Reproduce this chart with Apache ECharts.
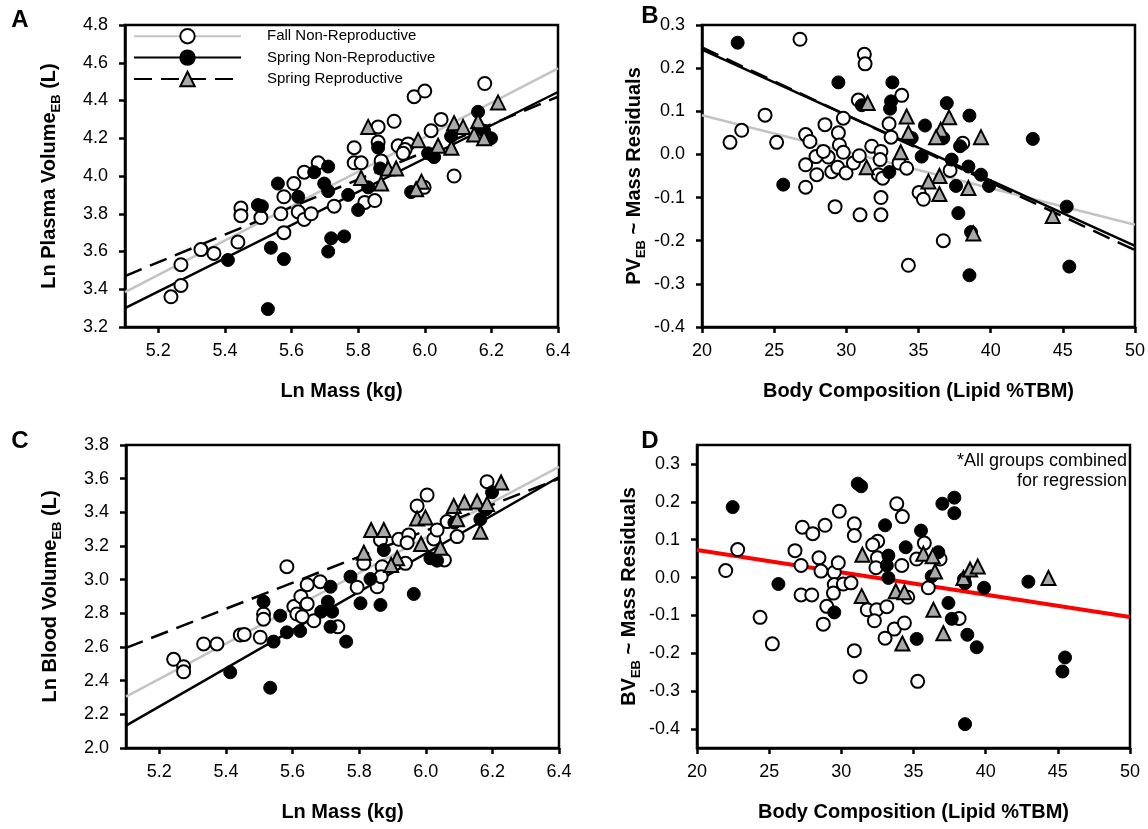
<!DOCTYPE html>
<html>
<head>
<meta charset="utf-8">
<title>Plasma and blood volume</title>
<script src="https://cdn.jsdelivr.net/npm/echarts@6/dist/echarts.min.js"></script>
<style>
html, body { margin: 0; padding: 0; background: #fff; }
#chart { width: 1148px; height: 829px; }
</style>
</head>
<body>
<div id="chart"></div>
<script>
// ---- data ----
// A: ln mass vs ln plasma volume
const fallA = [[5.238,3.36],[5.268,3.42],[5.268,3.53],[5.328,3.61],[5.367,3.59],[5.439,3.65],[5.448,3.83],[5.448,3.79],[5.508,3.78],[5.568,3.80],[5.577,3.70],[5.577,3.89],[5.607,3.96],[5.62,3.81],[5.638,4.02],[5.638,3.77],[5.659,3.80],[5.68,4.07],[5.728,3.84],
  [6.18,4.49],[5.968,4.42],[6.0,4.45],[5.908,4.29],[5.86,4.26],[6.049,4.30],[6.019,4.24],[5.788,4.15],[5.86,4.18],[5.92,4.16],[5.95,4.17],[5.941,4.14],[5.788,4.07],[5.809,4.07],[5.869,4.08],[5.82,3.86],[5.85,3.87],[6.088,4.0],[5.998,3.94],[5.935,4.12]];
const springA = [[5.529,3.295],[5.409,3.555],[5.538,3.62],[5.577,3.56],[5.499,3.846],[5.511,3.84],[5.559,3.96],[5.62,3.89],[5.668,4.02],[5.71,4.05],[5.698,3.96],[5.71,3.92],[5.719,3.67],[5.71,3.60],
  [6.16,4.34],[5.86,4.15],[5.866,4.04],[6.01,4.12],[6.028,4.10],[6.079,4.21],[6.199,4.20],[6.178,4.24],[5.77,3.90],[5.80,3.82],[5.959,3.915],[5.83,3.94],[5.758,3.68]];
const reproA = [[6.22,4.39],[5.83,4.26],[5.98,4.19],[6.04,4.16],[6.08,4.15],[6.088,4.28],[6.115,4.26],[6.16,4.29],[6.148,4.22],[6.178,4.20],[5.89,4.04],[5.914,4.04],[5.809,3.99],[5.869,3.96],[5.99,3.97],[5.974,3.93]];
const fitFallA = [[5.1,3.385],[6.4,4.57]];
const fitSpringA = [[5.1,3.30],[6.4,4.445]];
const fitReproA = [[5.1,3.47],[6.4,4.42]];

// B: lipid %TBM vs PV residuals
const fallB = [[26.79,0.267],[31.25,0.232],[31.30,0.21],[21.94,0.028],[22.75,0.056],[24.37,0.091],[25.17,0.028],[27.18,0.046],[27.48,0.030],[28.52,0.069],[29.45,0.05],[29.79,0.084],[29.52,0.022],[29.79,0.005],[27.9,-0.005],[28.75,-0.006],[28.41,0.007],[27.18,-0.024],[27.95,-0.047],[28.99,-0.04],[29.40,-0.03],[29.98,-0.043],[30.49,-0.02],[30.90,-0.003],[31.76,0.019],[32.4,0.007],[32.34,-0.012],[32.22,-0.047],[32.52,-0.055],[27.18,-0.076],[29.22,-0.121],[30.95,-0.14],[32.40,-0.10],[32.40,-0.14],[34.30,-0.257],[32.96,0.071],[33.10,0.04],[33.84,0.137],[33.65,-0.02],[34.18,-0.032],[30.83,0.126],[35.04,-0.088],
  [38.07,0.026],[37.19,-0.037],[35.34,-0.104],[36.72,-0.20]];
const springB = [[22.47,0.259],[29.45,0.167],[33.19,0.167],[33.10,0.123],[33.03,0.106],[31.07,0.114],[25.63,-0.07],[32.98,-0.041],[34.53,0.038],
  [36.96,0.119],[38.53,0.09],[35.45,0.067],[36.72,0.038],[37.88,0.019],[35.22,-0.005],[37.30,-0.012],[38.46,-0.028],[39.33,-0.047],[39.89,-0.073],[37.60,-0.073],[42.92,0.036],[45.27,-0.121],[45.45,-0.26],[38.53,-0.28],[37.76,-0.136],[38.64,-0.18]];
const reproB = [[31.48,0.119],[34.18,0.088],[34.30,0.05],[33.77,0.005],[31.41,-0.03],[37.12,0.086],[36.54,0.057],[36.22,0.04],[39.33,0.04],[36.45,-0.05],[35.69,-0.063],[36.45,-0.092],[38.46,-0.078],[44.30,-0.143],[38.80,-0.183]];
const fitFallB = [[20,0.091],[50,-0.163]];
const fitSpringB = [[20,0.243],[50,-0.212]];
const fitReproB = [[20,0.248],[50,-0.222]];

// C: ln mass vs ln blood volume
const fallC = [[5.243,2.527],[5.273,2.483],[5.273,2.453],[5.333,2.618],[5.373,2.618],[5.443,2.671],[5.455,2.675],[5.503,2.658],[5.513,2.796],[5.513,2.765],[5.583,3.077],[5.604,2.84],[5.613,2.796],[5.625,2.90],[5.644,2.97],[5.644,2.856],[5.683,2.988],[5.664,2.756],[5.629,2.78],
  [6.004,3.503],[5.974,3.438],[6.184,3.582],[5.919,3.24],[5.949,3.266],[5.944,3.22],[5.864,3.236],[6.024,3.242],[6.034,3.295],[6.064,3.345],[6.094,3.256],[5.814,3.097],[5.869,3.077],[5.939,3.097],[5.794,2.955],[5.854,2.958],[5.866,3.018],[6.056,3.117],[5.736,2.72]];
const springC = [[5.413,2.45],[5.533,2.358],[5.513,2.869],[5.563,2.786],[5.543,2.632],[5.583,2.687],[5.623,2.695],[5.714,2.958],[5.706,2.869],[5.719,2.81],[5.714,2.72],[5.686,2.81],
  [6.199,3.519],[5.874,3.176],[6.014,3.127],[6.034,3.113],[6.086,3.339],[6.164,3.359],[6.181,3.418],[5.774,3.018],[5.834,3.004],[5.804,2.86],[5.864,2.85],[5.964,2.915],[5.761,2.632]];
const reproC = [[6.226,3.577],[5.836,3.295],[5.874,3.295],[5.974,3.364],[5.999,3.37],[6.084,3.438],[6.116,3.458],[6.154,3.464],[6.184,3.45],[6.094,3.359],[6.164,3.285],[5.986,3.212],[6.044,3.19],[5.814,3.16],[5.914,3.127],[5.896,3.087]];
const fitFallC = [[5.1,2.305],[6.4,3.67]];
const fitSpringC = [[5.1,2.133],[6.4,3.61]];
const fitReproC = [[5.1,2.595],[6.4,3.60]];

// D: lipid %TBM vs BV residuals (one regression for all groups)
const fallD = [[22.82,0.074],[21.99,0.0185],[24.37,-0.105],[25.22,-0.175],[26.79,0.071],[27.21,0.032],[27.30,0.133],[28.02,0.116],[28.87,0.138],[29.86,0.175],[30.90,0.142],[30.90,0.111],[28.45,0.052],[28.59,0.017],[29.51,0.014],[29.79,0.039],[29.51,-0.0185],[29.45,-0.041],[30.14,-0.017],[30.67,-0.014],[27.21,-0.046],[27.95,-0.046],[28.99,-0.076],[28.75,-0.123],[30.90,-0.193],[31.30,-0.262],[32.52,0.096],[32.17,0.0865],[32.50,0.052],[32.40,0.026],[31.80,-0.085],[32.45,-0.085],[33.15,-0.077],[32.29,-0.114],[33.67,-0.136],[33.03,-0.16],[34.37,-0.12],[33.84,0.195],[34.23,0.161],[34.19,0.032],[34.60,-0.052],[35.22,0.049],[35.29,-0.274],
  [35.75,0.091],[36.84,0.049],[36.03,-0.027],[38.16,-0.108]];
const springD = [[22.47,0.186],[25.64,-0.017],[29.51,-0.092],[31.14,0.248],[31.37,0.241],[33.03,0.138],[33.26,0.058],[33.15,0.032],[33.26,-0.001],[34.46,0.080],
  [37.0,0.195],[37.83,0.211],[37.83,0.17],[35.52,0.124],[36.72,0.067],[36.26,0.0035],[38.50,-0.004],[38.57,-0.015],[39.89,-0.027],[42.96,-0.011],[37.42,-0.067],[37.65,-0.109],[35.22,-0.162],[38.73,-0.151],[39.38,-0.184],[45.50,-0.211],[45.32,-0.248],[38.57,-0.387]];
const reproD = [[31.46,0.06],[31.41,-0.049],[33.77,-0.036],[34.37,-0.039],[34.23,-0.174],[35.68,0.063],[36.33,0.056],[36.49,0.016],[38.46,-0.001],[38.92,0.021],[39.45,0.029],[44.35,-0.001],[36.38,-0.085],[37.07,-0.147]];
const fitAllD = [[20,0.073],[50,-0.104]];

// tick labels
const lnMassTicks = [5.2, 5.4, 5.6, 5.8, 6.0, 6.2, 6.4];
const residTicksD = [-0.4, -0.3, -0.2, -0.1, 0.0, 0.1, 0.2, 0.3];

const groupNames = ['Fall Non-Reproductive', 'Spring Non-Reproductive', 'Spring Reproductive'];

const FONT = 'Liberation Sans, Arial, sans-serif';
const chart = echarts.init(document.getElementById('chart'));

const openStyle = { color: '#fff', borderColor: '#000', borderWidth: 2, opacity: 1 };
const fillStyle = { color: '#000', borderColor: '#000', borderWidth: 1, opacity: 1 };
const triStyle = { color: '#a9a9a9', borderColor: '#000', borderWidth: 2, opacity: 1 };

function axisCommon() {
	return {
		axisLine: { show: true, onZero: false, lineStyle: { color: '#000', width: 2.5 } },
		axisTick: { show: true, inside: false, length: 6, lineStyle: { color: '#000', width: 2.5 } },
		splitLine: { show: false },
		nameTextStyle: { color: '#000', fontSize: 20, fontWeight: 'bold', fontFamily: FONT }
	};
}

function xAxis(idx, name, min, max, extra) {
	const a = axisCommon();
	return Object.assign(a, {
		type: 'value', gridIndex: idx, min: min, max: max,
		name: name, nameLocation: 'middle', nameGap: 54,
		axisLabel: { color: '#000', fontSize: 18, fontFamily: FONT, margin: 15 }
	}, extra || {});
}

function yAxis(idx, title, min, max, gap, extra) {
	const a = axisCommon();
	a.nameTextStyle.rich = {
		a: { fontSize: 20, fontWeight: 'bold', fontFamily: FONT, color: '#000', lineHeight: 22, verticalAlign: 'top' },
		s: { fontSize: 13, fontWeight: 'bold', fontFamily: FONT, color: '#000', lineHeight: 13, padding: [11, 0, 0, 0], verticalAlign: 'top' }
	};
	return Object.assign(a, {
		type: 'value', gridIndex: idx, min: min, max: max,
		name: title, nameLocation: 'middle', nameRotate: 90, nameGap: gap,
		axisLabel: { color: '#000', fontSize: 18, fontFamily: FONT, margin: 17, formatter: v => v.toFixed(1) }
	}, extra || {});
}

function dots(data, idx, style, symbol, name) {
	return {
		type: 'scatter', name: name, xAxisIndex: idx, yAxisIndex: idx, data: data,
		symbol: symbol, symbolSize: symbol === 'triangle' ? 14 : 13,
		itemStyle: style, z: 5, silent: true
	};
}

function fit(data, idx, color, dashed, name, symbol, style) {
	return {
		type: 'line', name: name, xAxisIndex: idx, yAxisIndex: idx, data: data,
		symbol: symbol || 'none', showSymbol: false, itemStyle: style,
		lineStyle: { color: color, width: 2.5, type: dashed ? [18, 9] : 'solid' },
		z: 2, silent: true
	};
}

const option = {
	animation: false,
	backgroundColor: '#fff',
	textStyle: { fontFamily: FONT },
	grid: [
		{ left: 125, top: 25, width: 433, height: 302 },
		{ left: 702, top: 25, width: 433, height: 302 },
		{ left: 126, top: 445, width: 433, height: 303 },
		{ left: 697, top: 445, width: 433, height: 303 }
	].map(g => Object.assign(g, { show: true, borderColor: '#000', borderWidth: 2.5 })),
	legend: {
		data: groupNames,
		orient: 'vertical', left: 133, top: 28, padding: 0,
		itemWidth: 107, itemHeight: 18, itemGap: 5,
		selectedMode: false,
		textStyle: { fontSize: 15, fontFamily: FONT, color: '#000', padding: [0, 0, 0, 21] }
	},
	xAxis: [
		xAxis(0, 'Ln Mass (kg)', 5.1, 6.4, {
			axisLabel: { color: '#000', fontSize: 18, fontFamily: FONT, margin: 15, customValues: lnMassTicks, formatter: v => v.toFixed(1) },
			axisTick: { show: true, length: 6, customValues: lnMassTicks, lineStyle: { color: '#000', width: 2.5 } }
		}),
		xAxis(1, 'Body Composition (Lipid %TBM)', 20, 50, { interval: 5 }),
		xAxis(2, 'Ln Mass (kg)', 5.1, 6.4, {
			axisLabel: { color: '#000', fontSize: 18, fontFamily: FONT, margin: 15, customValues: lnMassTicks, formatter: v => v.toFixed(1) },
			axisTick: { show: true, length: 6, customValues: lnMassTicks, lineStyle: { color: '#000', width: 2.5 } }
		}),
		xAxis(3, 'Body Composition (Lipid %TBM)', 20, 50, { interval: 5 })
	],
	yAxis: [
		yAxis(0, '{a|Ln Plasma Volume}{s|EB}{a| (L)}', 3.2, 4.8, 64, { interval: 0.2 }),
		yAxis(1, '{a|PV}{s|EB}{a| ~ Mass Residuals}', -0.4, 0.3, 56, { interval: 0.1 }),
		yAxis(2, '{a|Ln Blood Volume}{s|EB}{a| (L)}', 2.0, 3.8, 64, { interval: 0.2 }),
		yAxis(3, '{a|BV}{s|EB}{a| ~ Mass Residuals}', -0.45, 0.35, 56, {
			axisLabel: { color: '#000', fontSize: 18, fontFamily: FONT, margin: 17, customValues: residTicksD, formatter: v => v.toFixed(1) },
			axisTick: { show: true, length: 6, customValues: residTicksD, lineStyle: { color: '#000', width: 2.5 } }
		})
	],
	series: [
		// regression lines (A carries the legend icons)
		fit(fitFallA, 0, '#c3c3c3', false, groupNames[0], 'circle', openStyle),
		fit(fitSpringA, 0, '#000', false, groupNames[1], 'circle', fillStyle),
		fit(fitReproA, 0, '#000', true, groupNames[2], 'triangle', triStyle),
		fit(fitFallB, 1, '#c3c3c3', false, 'fit fall B'),
		fit(fitSpringB, 1, '#000', false, 'fit spring B'),
		fit(fitReproB, 1, '#000', true, 'fit repro B'),
		fit(fitFallC, 2, '#c3c3c3', false, 'fit fall C'),
		fit(fitSpringC, 2, '#000', false, 'fit spring C'),
		fit(fitReproC, 2, '#000', true, 'fit repro C'),
		Object.assign(fit(fitAllD, 3, '#ff0000', false, 'fit all D'), { lineStyle: { color: '#ff0000', width: 4 } }),
		// points
		dots(fallA, 0, openStyle, 'circle', 'fall A'),
		dots(springA, 0, fillStyle, 'circle', 'spring A'),
		dots(reproA, 0, triStyle, 'triangle', 'repro A'),
		dots(fallB, 1, openStyle, 'circle', 'fall B'),
		dots(springB, 1, fillStyle, 'circle', 'spring B'),
		dots(reproB, 1, triStyle, 'triangle', 'repro B'),
		dots(fallC, 2, openStyle, 'circle', 'fall C'),
		dots(springC, 2, fillStyle, 'circle', 'spring C'),
		dots(reproC, 2, triStyle, 'triangle', 'repro C'),
		dots(fallD, 3, openStyle, 'circle', 'fall D'),
		dots(springD, 3, fillStyle, 'circle', 'spring D'),
		dots(reproD, 3, triStyle, 'triangle', 'repro D')
	],
	graphic: [
		{ type: 'text', x: 20, y: 20, style: { text: 'A', font: 'bold 24px Liberation Sans', fill: '#000', align: 'center', verticalAlign: 'middle' } },
		{ type: 'text', x: 650, y: 16, style: { text: 'B', font: 'bold 24px Liberation Sans', fill: '#000', align: 'center', verticalAlign: 'middle' } },
		{ type: 'text', x: 20, y: 441, style: { text: 'C', font: 'bold 24px Liberation Sans', fill: '#000', align: 'center', verticalAlign: 'middle' } },
		{ type: 'text', x: 650, y: 441, style: { text: 'D', font: 'bold 24px Liberation Sans', fill: '#000', align: 'center', verticalAlign: 'middle' } },
		{ type: 'text', x: 1127, y: 451, style: { text: '*All groups combined\nfor regression', font: '18px Liberation Sans', lineHeight: 20, fill: '#000', align: 'right', verticalAlign: 'top' } }
	]
};

chart.setOption(option);
</script>
</body>
</html>
